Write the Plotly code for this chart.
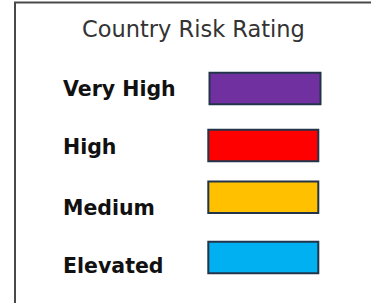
import plotly.graph_objects as go

categories = ["Very High", "High", "Medium", "Elevated"]
colors = ["#7030A0", "#FF0000", "#FFC000", "#00B0F0"]
title = "Country Risk Rating"

# layout positions (pixel space of the window)
box_y = [88.5, 145.5, 197.3, 257.5]
box_base = [209.5, 208.3, 208.3, 208.3]
box_w = [111, 110, 110, 110]
label_y = [89, 147, 208, 266]

fig = go.Figure()
fig.add_trace(go.Bar(
    y=box_y, x=box_w, base=box_base, orientation="h", width=31.5,
    marker=dict(color=colors, line=dict(color="#22344a", width=2)),
    hoverinfo="text", hovertext=categories, showlegend=False,
))
for cat, yy in zip(categories, label_y):
    fig.add_annotation(x=61, y=yy, text=f"<b>{cat}</b>", showarrow=False,
                       xanchor="left", yanchor="middle",
                       font=dict(family="DejaVu Sans", size=20.5, color="#111111"))
fig.add_annotation(x=193, y=28.5, text=title, showarrow=False,
                   xanchor="center", yanchor="middle",
                   font=dict(family="DejaVu Sans", size=22.5, color="#333333"))
fig.add_shape(type="path", path="M 15 310 L 15 2.5 L 390 2.5",
              line=dict(color="#4a4a4a", width=2))
fig.update_xaxes(range=[0, 371], visible=False, fixedrange=True)
fig.update_yaxes(range=[303, 0], visible=False, fixedrange=True)
fig.update_layout(width=371, height=303, margin=dict(l=0, r=0, t=0, b=0),
                  plot_bgcolor="white", paper_bgcolor="white")
fig.write_html("out.html", config={"displayModeBar": False},
               post_script="document.body.style.margin='0';")
